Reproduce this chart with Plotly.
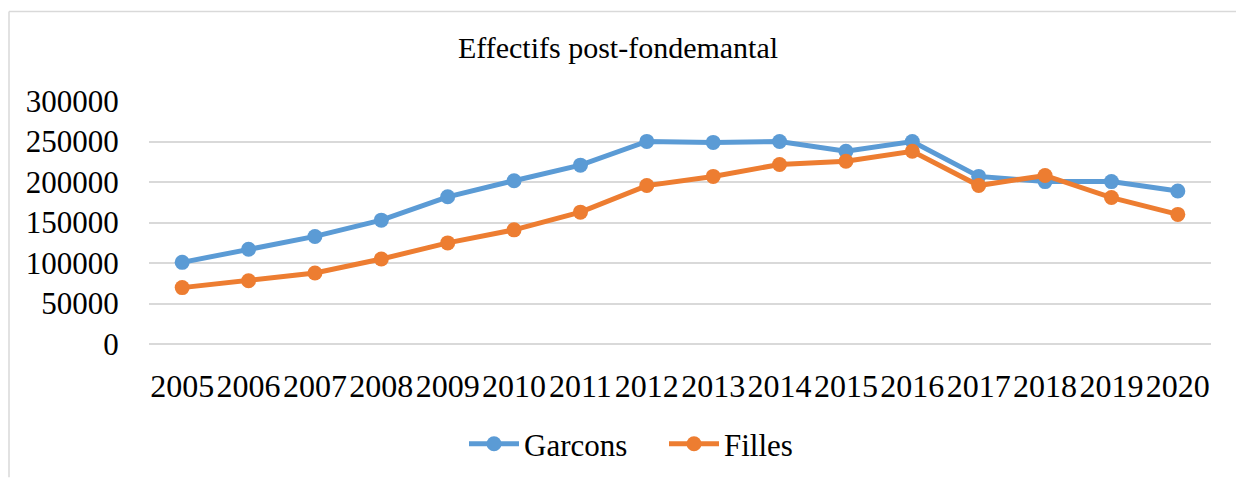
import plotly.graph_objects as go

years = [str(y) for y in range(2005, 2021)]
garcons = [100800, 116900, 132800, 152900, 181700, 201600, 220800, 250100,
           248900, 250000, 238000, 250000, 206900, 200500, 200500, 188900]
filles = [69600, 78000, 87600, 104900, 124800, 140900, 162800, 195600,
          206900, 221600, 225600, 238000, 195600, 208100, 180800, 160000]
y_ticks = [0, 50000, 100000, 150000, 200000, 250000, 300000]

FONT = "Liberation Serif, Times New Roman, serif"
BLUE = "#5B9BD5"
ORANGE = "#ED7D31"

fig = go.Figure()
fig.add_trace(go.Scatter(x=years, y=garcons, name="Garcons", mode="lines+markers",
                         line=dict(color=BLUE, width=5),
                         marker=dict(color=BLUE, size=15)))
fig.add_trace(go.Scatter(x=years, y=filles, name="Filles", mode="lines+markers",
                         line=dict(color=ORANGE, width=5),
                         marker=dict(color=ORANGE, size=15)))

L, R, T, B = 149, 25, 101, 132
W, H = 1236, 483
pw, ph = W - L - R, H - T - B

fig.update_layout(
    width=W, height=H,
    margin=dict(l=L, r=R, t=T, b=B),
    paper_bgcolor="white", plot_bgcolor="white",
    font=dict(family=FONT, color="#000000", size=31),
    title=dict(text="Effectifs post-fondemantal", x=0.5, xanchor="center",
               y=1 - 47 / H, yanchor="middle", font=dict(size=30, family=FONT)),
    showlegend=True,
    legend=dict(orientation="h", x=(664 - L) / pw, xanchor="center",
                y=(H - B - 454) / ph, yanchor="middle",
                font=dict(size=31, family=FONT), itemwidth=50, entrywidth=135,
                bgcolor="rgba(0,0,0,0)"),
    xaxis=dict(type="category", range=[-0.5, 15.5], showgrid=False,
               showline=False, zeroline=False, ticks="outside", ticklen=14,
               tickcolor="rgba(0,0,0,0)", tickfont=dict(size=32, family=FONT)),
    yaxis=dict(range=[0, 300000], tickvals=y_ticks, ticktext=[str(v) for v in y_ticks],
               showgrid=True, gridcolor="#D9D9D9", gridwidth=1.5,
               zeroline=True, zerolinecolor="#D9D9D9", zerolinewidth=1.5,
               showline=False, ticks="outside", ticklen=23,
               tickcolor="rgba(0,0,0,0)", tickfont=dict(size=31, family=FONT)),
    shapes=[
        dict(type="line", xref="paper", yref="paper",
             x0=(9 - L) / pw, x1=(W + 5 - L) / pw,
             y0=(H - B - 9) / ph, y1=(H - B - 9) / ph,
             line=dict(color="#D9D9D9", width=1.5)),
        dict(type="line", xref="paper", yref="paper",
             x0=(9 - L) / pw, x1=(9 - L) / pw,
             y0=(H - B - 9) / ph, y1=(H - B - H - 5) / ph,
             line=dict(color="#D9D9D9", width=1.5)),
    ],
)

fig.write_html("out.html", config={"displayModeBar": False},
               post_script="document.body.style.margin='0';document.body.style.overflow='hidden';")
